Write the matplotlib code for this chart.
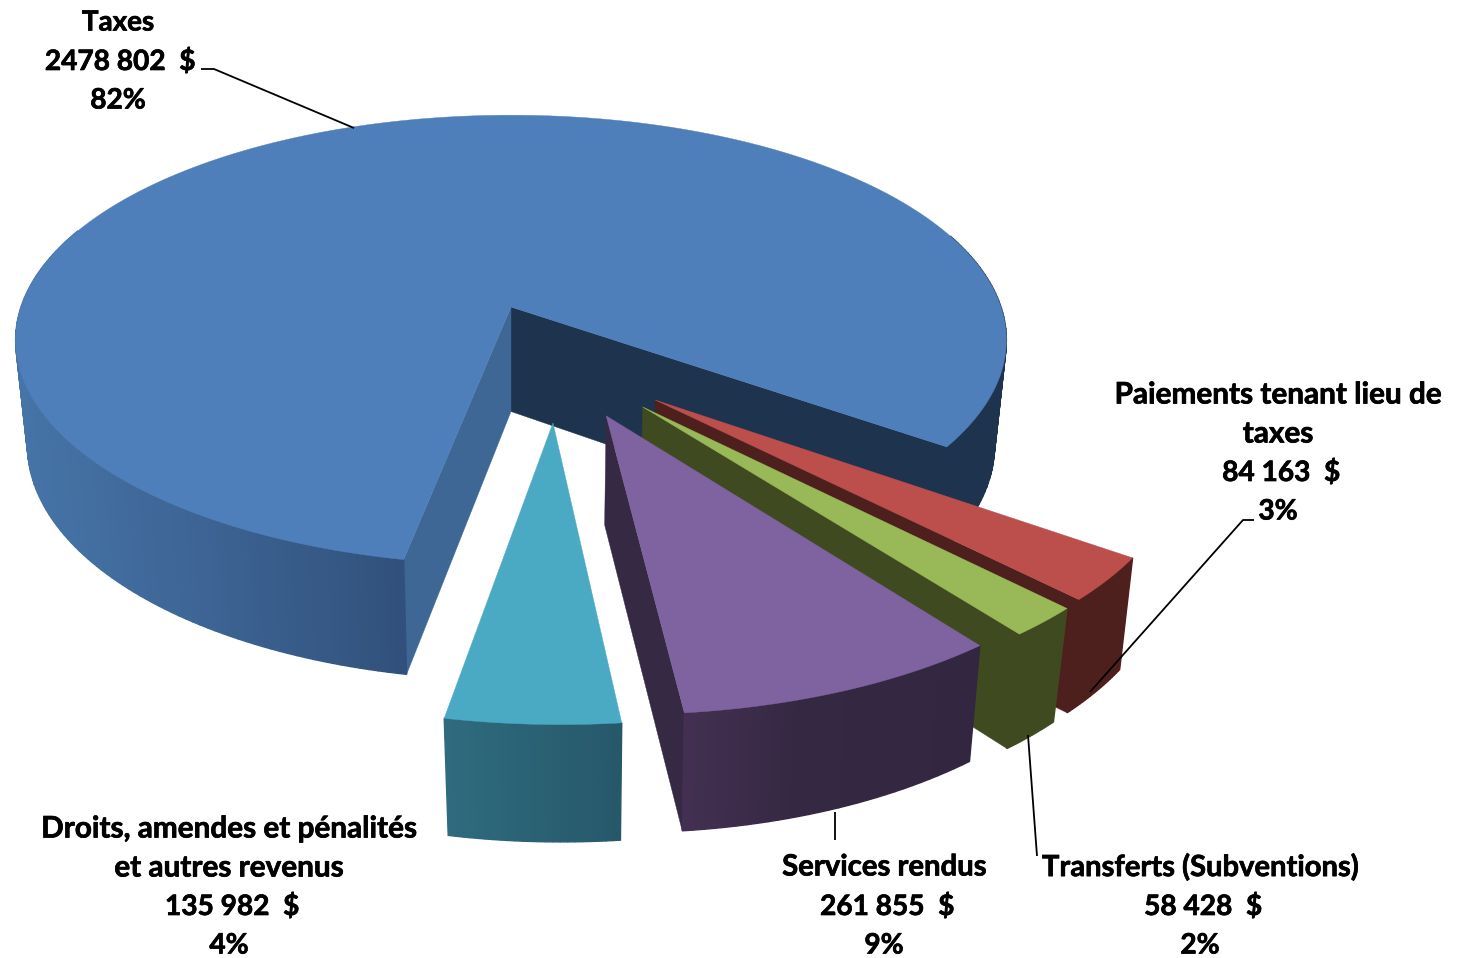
import numpy as np
import matplotlib
matplotlib.use("Agg")
import matplotlib.pyplot as plt
import matplotlib.patheffects as pe
from matplotlib.colors import to_rgb

# ---- data ----
categories = ["Taxes", "Paiements tenant lieu de taxes", "Transferts (Subventions)",
              "Services rendus", "Droits, amendes et pénalités et autres revenus"]
values = [2478802, 84163, 58428, 261855, 135982]
amount_labels = ["2478 802  $", "84 163  $", "58 428  $", "261 855  $", "135 982  $"]
percent_labels = ["82%", "3%", "2%", "9%", "4%"]

# ---- style ----
top_colors = ["#4e7fba", "#bc4f4c", "#99b958", "#7f62a0", "#4aaac4"]
face_colors = [("#1e334e", "#3e6795"), ("#4d1f1d", None), ("#3f4a20", None), ("#352943", None), (None, None)]
wall_stops = [
    [(14, "#4674a8"), (200, "#3d6494"), (404, "#31517b"), (405, "#1e334e"), (1010, "#1e334e")],
    [(1000, "#4d1f1d"), (1200, "#4d1f1d")],
    [(900, "#3f4a20"), (1100, "#3f4a20")],
    [(680, "#443052"), (800, "#352843"), (980, "#322640")],
    [(444, "#2f6b7e"), (620, "#26586a")],
]
offsets = [(0, 0), (.277, -.398), (.252, -.426), (.181, -.461), (.0795, -.489)]
radii = [1, .995, .995, .995, .995]
bottom_shift = [(0, 0), (4, -3), (2, -3), (3, -2), (2, -3)]
edge_nudge = [0, .8, .5, .4, .2, .0]  # degrees, perspective correction of the slice borders

CX, CY = 511.0, 307.0
RX, RY, DEPTH, PY, PZ = 490.0, 220.0, 107.0, .147, .024
START = -100.8

def project(x, y, z=0.0):
    w = 1 + PY * np.asarray(y, float) + PZ * z
    return CX + RX * np.asarray(x, float) / w, CY + (-RY * np.asarray(y, float) + DEPTH * z) / w

fig = plt.figure(figsize=(14.65, 9.58), dpi=100)
ax = fig.add_axes([0, 0, 1, 1])
ax.set_xlim(0, 1465)
ax.set_ylim(958, 0)
ax.axis("off")

def lerp_color(stops, x):
    xs = [s[0] for s in stops]
    cols = np.array([to_rgb(s[1]) for s in stops])
    return tuple(np.interp(x, xs, cols[:, i]) for i in range(3))

total = sum(values)
spans = [v / total * 360 for v in values]
edges = START - np.concatenate([[0], np.cumsum(spans)]) + np.array(edge_nudge)  # clockwise
for i in range(len(values)):
    a0, a1 = np.radians(edges[i]), np.radians(edges[i + 1])
    th = np.linspace(a0, a1, max(int(abs(edges[i + 1] - edges[i])), 24))
    ox, oy = offsets[i]
    sx, sy = bottom_shift[i]
    wx, wy = ox + radii[i] * np.cos(th), oy + radii[i] * np.sin(th)
    tu, tv = project(wx, wy, 0)
    bu, bv = project(wx, wy, 1)
    bu, bv = bu + sx, bv + sy
    au, av = project(ox, oy, 0)
    au2, av2 = project(ox, oy, 1)
    au2 = au2 + sx * .3
    fc_end, fc_start = face_colors[i]
    if fc_end:
        ax.fill([au, tu[-1], bu[-1], au2], [av, tv[-1], bv[-1], av2], color=fc_end, lw=.3, zorder=i * 3 + 1)
    if fc_start:
        ax.fill([au, tu[0], bu[0], au2], [av, tv[0], bv[0], av2], color=fc_start, lw=.3, zorder=i * 3 + 1)
    for k in range(len(th) - 1):
        if np.sin(th[k]) > 0.35:
            continue
        col = lerp_color(wall_stops[i], (tu[k] + tu[k + 1]) / 2)
        ax.fill([tu[k], tu[k + 1], bu[k + 1], bu[k]], [tv[k], tv[k + 1], bv[k + 1], bv[k]],
                facecolor=col, edgecolor=col, lw=1.0, zorder=i * 3 + 2)
    ax.fill(np.r_[au, tu], np.r_[av, tv], facecolor=top_colors[i], edgecolor=top_colors[i], lw=.3,
            zorder=i * 3 + 3)

# ---- leader lines ----
leaders = [
    ([201, 214, 354], [69, 69, 128]),
    ([1254, 1243, 1090], [520, 520, 692]),
    ([1037, 1028], [856, 735]),
    ([835, 835], [840, 812]),
]
for xs, ys in leaders:
    ax.plot(xs, ys, color="black", lw=1.3, zorder=30, solid_capstyle="butt")

# ---- labels ----
name_lines = [["Taxes"], ["Paiements tenant lieu de", "taxes"], ["Transferts (Subventions)"],
              ["Services rendus"], ["Droits, amendes et pénalités", "et autres revenus"]]
name_size = [20, 21.4, 21, 21.1, 21.4]
label_x = [118, 1278, 1200, 884, 229]
amount_x = [120, 1281, 1203, 887, 232]
label_top = [22.5, 394.5, 867.5, 867.5, 828.5]
LINE = 39
stroke = [pe.withStroke(linewidth=.5, foreground="black")]
for i in range(len(values)):
    rows = name_lines[i] + [amount_labels[i], percent_labels[i]]
    for r, row in enumerate(rows):
        is_name = r < len(name_lines[i])
        x = amount_x[i] if row == amount_labels[i] else label_x[i]
        ax.text(x, label_top[i] + r * LINE, row, ha="center", va="center", family="Lato",
                weight="bold", fontsize=name_size[i] if is_name else 20.2, color="black", zorder=40,
                path_effects=stroke)

fig.savefig("out.png", dpi=100, facecolor="white")
